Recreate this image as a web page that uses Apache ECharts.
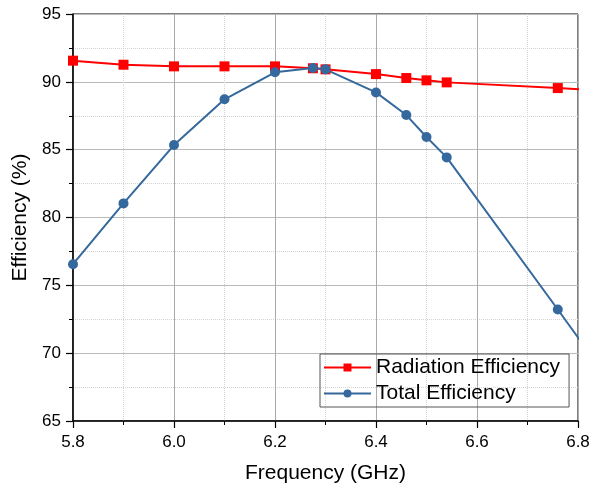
<!DOCTYPE html>
<html>
<head>
<meta charset="utf-8">
<script src="https://cdn.jsdelivr.net/npm/echarts@6/dist/echarts.min.js"></script>
<style>
  html, body { margin: 0; padding: 0; background: #fff; }
  #chart { width: 607px; height: 491px; }
</style>
</head>
<body>
<div id="chart"></div>
<script>
// 频率 (GHz)，最后一个点在坐标范围外，被裁掉
const freq = [5.8, 5.9, 6.0, 6.1, 6.2, 6.275, 6.3, 6.4, 6.46, 6.5, 6.54, 6.76, 6.9]
const radEff = [91.56, 91.26, 91.14, 91.14, 91.14, 91.0, 90.92, 90.57, 90.28, 90.11, 89.96, 89.54, 89.28]
const totalEff = [76.56, 81.04, 85.34, 88.71, 90.7, 91.02, 90.92, 89.22, 87.55, 85.93, 84.43, 73.22, 66.0]
const seriesNames = ['Radiation Efficiency', 'Total Efficiency']

const font = 'Liberation Sans, Arial, sans-serif'
const chart = echarts.init(document.getElementById('chart'))

const pairs = (ys) => freq.map((x, i) => [x, ys[i]])

const option = {
  backgroundColor: '#fff',
  animation: false,
  grid: {
    left: 73,
    right: 29,
    top: 14,
    bottom: 70,
    show: true,
    borderColor: '#000',
    borderWidth: 1,
  },
  legend: {
    orient: 'vertical',
    left: 320,
    top: 354,
    padding: [3, 9, 3, 3],
    itemGap: 5,
    itemWidth: 47,
    itemHeight: 10,
    borderColor: '#555',
    borderWidth: 1,
    borderRadius: 0,
    data: seriesNames,
    textStyle: { fontFamily: font, fontSize: 21, color: '#000' },
  },
  xAxis: {
    type: 'value',
    min: 5.8,
    max: 6.8,
    interval: 0.2,
    name: 'Frequency (GHz)',
    nameLocation: 'middle',
    nameGap: 42,
    nameTextStyle: { fontFamily: font, fontSize: 21, color: '#000' },
    axisLine: { show: true, lineStyle: { color: '#000', width: 1.5 } },
    axisTick: { show: true, length: 7, lineStyle: { color: '#000', width: 1.2 } },
    minorTick: { show: true, splitNumber: 2, length: 4, lineStyle: { color: '#000', width: 1 } },
    axisLabel: {
      fontFamily: font,
      fontSize: 17,
      color: '#000',
      margin: 13,
      formatter: (v) => v.toFixed(1),
    },
    splitLine: { show: true, lineStyle: { color: '#aaa', width: 1 } },
    minorSplitLine: { show: true, lineStyle: { color: '#d4d4d4', width: 1, type: 'dotted' } },
  },
  yAxis: {
    type: 'value',
    min: 65,
    max: 95,
    interval: 5,
    name: 'Efficiency (%)',
    nameLocation: 'middle',
    nameGap: 36,
    nameTextStyle: { fontFamily: font, fontSize: 21, color: '#000' },
    axisLine: { show: true, lineStyle: { color: '#000', width: 1.5 } },
    axisTick: { show: true, length: 7, lineStyle: { color: '#000', width: 1.2 } },
    minorTick: { show: true, splitNumber: 2, length: 4, lineStyle: { color: '#000', width: 1 } },
    axisLabel: { fontFamily: font, fontSize: 17, color: '#000', margin: 12 },
    splitLine: { show: true, lineStyle: { color: '#bbb', width: 1.2 } },
    minorSplitLine: { show: true, lineStyle: { color: '#d4d4d4', width: 1, type: 'dotted' } },
  },
  series: [
    {
      name: seriesNames[0],
      type: 'line',
      data: pairs(radEff),
      clip: true,
      symbol: 'rect',
      symbolSize: 10,
      showAllSymbol: true,
      lineStyle: { color: '#ff0000', width: 2 },
      itemStyle: { color: '#ff0000' },
    },
    {
      name: seriesNames[1],
      type: 'line',
      data: pairs(totalEff),
      clip: true,
      symbol: 'circle',
      symbolSize: 10,
      showAllSymbol: true,
      lineStyle: { color: '#35689c', width: 2 },
      itemStyle: { color: '#35689c' },
    },
  ],
}

chart.setOption(option)
</script>
</body>
</html>
